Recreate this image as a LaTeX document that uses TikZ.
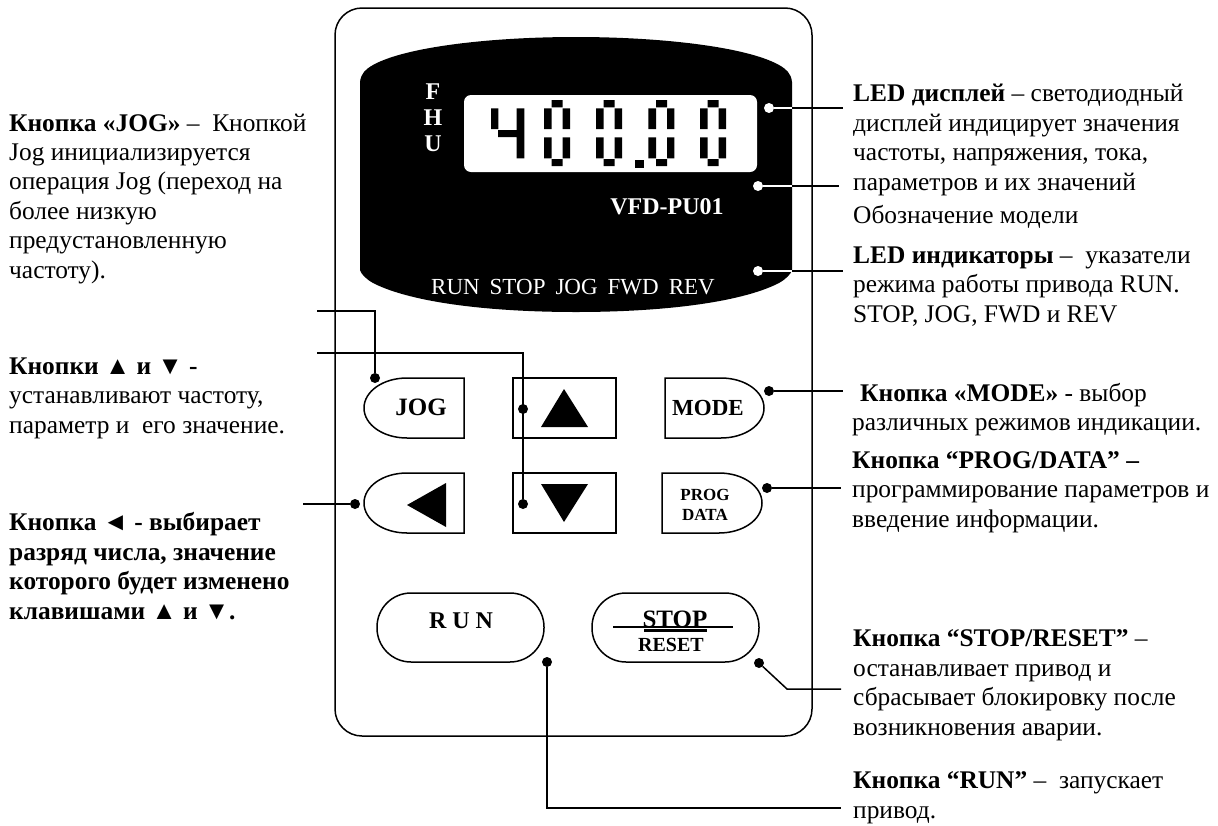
\documentclass[tikz,border=0pt]{standalone}
\usepackage{fontspec}
\setmainfont{Liberation Serif}
\newcommand\halfL[1]{\draw[btn,shift={(0,#1)}] (464,378) -- (407,378) .. controls (383,378) and (364,391.4) .. (364,408) .. controls (364,424.6) and (383,438) .. (407,438) -- (464,438) -- cycle;}
\newcommand\halfR[3]{\draw[btn,shift={(#1,#2)}] (0,378) -- (#3-43,378) .. controls (#3-19,378) and (#3,391.4) .. (#3,408) .. controls (#3,424.6) and (#3-19,438) .. (#3-43,438) -- (0,438) -- cycle;}
\newcommand\segzero[1]{\begin{scope}[shift={(#1,0)}]
\fill (0,108.3) rectangle (7.7,129) (0,137.3) rectangle (7.7,158.3)
(7.7,100) rectangle (18.7,107.3) (7.7,159) rectangle (18.7,166)
(18.7,108.3) rectangle (26,129) (18.7,137.3) rectangle (26,158.3);
\end{scope}}
\tikzset{
 x=1pt,y=-1pt,
 line/.style={line width=1.5pt},
 btn/.style={line width=1.5pt},
 thickbox/.style={line width=2.4pt},
 bdot/.style={circle,fill=black,inner sep=0pt,minimum size=10pt},
 wdot/.style={circle,fill=white,inner sep=0pt,minimum size=10pt},
 txt/.style={inner sep=0pt,align=left,anchor=base west,font=\fontsize{25.4}{29.4}\selectfont},
 bld/.style={inner sep=0pt,anchor=base,font=\fontsize{#1}{#1}\selectfont\bfseries},
 dtxt/.style={inner sep=0pt,anchor=base,text=white},
}
\begin{document}
\begin{tikzpicture}
\useasboundingbox (0,0) rectangle (1218,825);
% panel
\draw[line,rounded corners=27pt] (335,8) rectangle (812,736);
% display
\fill (360,270) -- (360,82) .. controls (361,73) and (366,69) .. (373,65) .. controls (405,47) and (490,37) .. (576,37) .. controls (662,37) and (747,47) .. (779,65) .. controls (786,69) and (791,73) .. (792,82) -- (792,270) .. controls (791,274) and (786,279) .. (779,283) .. controls (740,303) and (660,312) .. (576,312) .. controls (492,312) and (412,303) .. (373,283) .. controls (366,279) and (361,274) .. (360,270) -- cycle;
\fill[white,rounded corners=7pt] (464,95) rectangle (757,172);
% digits
\fill (491,108.3) rectangle (498.3,129) (498,130) rectangle (517,137) (516.7,108.3) rectangle (524.3,158.3);
\segzero{544}\segzero{596}\segzero{648.3}\segzero{700}
\fill (635,160) rectangle (644,168.3);
\node[dtxt,font=\fontsize{24}{24}\selectfont\bfseries] (f) at (433,99) {F};
\node[dtxt,font=\fontsize{24}{24}\selectfont\bfseries] (h) at (433,125) {H};
\node[dtxt,font=\fontsize{24}{24}\selectfont\bfseries] (u) at (433,151) {U};
\node[dtxt,font=\fontsize{24}{24}\selectfont\bfseries] (model) at (667,214) {VFD-PU01};
\node[dtxt,font=\fontsize{23}{24}\selectfont] (leds) at (573,294) {RUN\hspace{10pt}STOP\hspace{10pt}JOG\hspace{10pt}FWD\hspace{10pt}REV};
% buttons
\halfL{0}
\halfL{95}
\draw[thickbox] (513,378) rectangle (616,438);
\draw[thickbox] (513,473) rectangle (616,533);
\halfR{665}{0}{99}
\halfR{662}{95}{100}
\fill (564,389) -- (588,427) -- (541,427) -- cycle;
\fill (541,484) -- (588,484) -- (564,522) -- cycle;
\fill (407,505) -- (446,483) -- (446,527) -- cycle;
\draw[btn,rounded corners=34pt] (377,593) rectangle (544,662);
\draw[btn,rounded corners=34pt] (592,593) rectangle (759,662);
\draw[line] (613,627) -- (733,627);
\fill (644,629) rectangle (707,632);
\node[bld=25] (jog) at (421,415) {JOG};
\node[bld=23] (mode) at (708,415) {MODE};
\node[bld=17] (prog) at (705,500) {PROG};
\node[bld=17] (data) at (705,520) {DATA};
\node[bld=24] (runb) at (461,628) {R U N};
\node[bld=25] (stop) at (675,627) {STOP};
\node[bld=20] (reset) at (671,651) {RESET};
% connectors
\node[wdot] (d1) at (769,108) {};
\node[wdot] (d2) at (758,186) {};
\node[wdot] (d3) at (758,271) {};
\coordinate (b1) at (792,108); \coordinate (e1) at (843,108);
\coordinate (b2) at (792,186); \coordinate (e2) at (839,186);
\coordinate (b3) at (792,271); \coordinate (e3) at (843,271);
\draw[line,white] (d1) -- (b1); \draw[line] (b1) -- (e1);
\draw[line,white] (d2) -- (b2); \draw[line] (b2) -- (e2);
\draw[line,white] (d3) -- (b3); \draw[line] (b3) -- (e3);
\node[bdot] (djog) at (375,378) {};
\node[bdot] (dup) at (523,409) {};
\node[bdot] (ddn) at (523,504) {};
\node[bdot] (dlt) at (355,504) {};
\node[bdot] (dmode) at (769,391) {};
\node[bdot] (dprog) at (767,488) {};
\node[bdot] (drun) at (547,662) {};
\node[bdot] (dstop) at (759,663) {};
\coordinate (ejog) at (317,311);
\coordinate (eup) at (317,353);
\coordinate (elt) at (303,504);
\coordinate (emode) at (843,391);
\coordinate (eprog) at (841,488);
\coordinate (estop) at (841,689);
\coordinate (kstop) at (787,689);
\coordinate (erun) at (841,808);
\draw[line] (ejog) -| (djog);
\draw[line] (eup) -| (ddn);
\draw[line] (elt) -- (dlt);
\draw[line] (dmode) -- (emode);
\draw[line] (dprog) -- (eprog);
\draw[line] (dstop) -- (kstop) -- (estop);
\draw[line] (drun) |- (erun);
% labels left (anchored at the baseline of the last line)
\node[txt] (tjog) at (9,278) {\textbf{Кнопка «JOG»} –\ \ Кнопкой\\Jog инициализируется\\операция Jog (переход на\\более низкую\\предустановленную\\частоту).};
\node[txt] (tupdn) at (9,433) {\textbf{Кнопки ▲ и ▼ -}\\устанавливают частоту,\\параметр и\ \ его значение.};
\node[txt,font=\fontsize{25.4}{29.4}\selectfont\bfseries] (tlt) at (9,619) {Кнопка ◄ - выбирает\\разряд числа, значение\\которого будет изменено\\клавишами ▲ и ▼.};
% labels right
\node[txt] (tled) at (853,190) {\textbf{LED дисплей} – светодиодный\\дисплей индицирует значения\\частоты, напряжения, тока,\\параметров и их значений};
\node[txt] (tmodel) at (853,223) {Обозначение модели};
\node[txt] (tind) at (853,322) {\textbf{LED индикаторы} –\ \ указатели\\режима работы привода RUN.\\STOP, JOG, FWD и REV};
\node[txt] (tmode) at (860,401) {\textbf{Кнопка «MODE»} - выбор};
\node[txt] (tmode2) at (852,430) {различных режимов индикации.};
\node[txt] (tprog) at (852,527) {\textbf{Кнопка “PROG/DATA” –}\\программирование параметров и\\введение информации.};
\node[txt] (tstop) at (853,735) {\textbf{Кнопка “STOP/RESET”} –\\останавливает привод и\\сбрасывает блокировку после\\возникновения аварии.};
\node[txt] (trun) at (853,818) {\textbf{Кнопка “RUN”} –\ \ запускает\\привод.};
\end{tikzpicture}
\end{document}
